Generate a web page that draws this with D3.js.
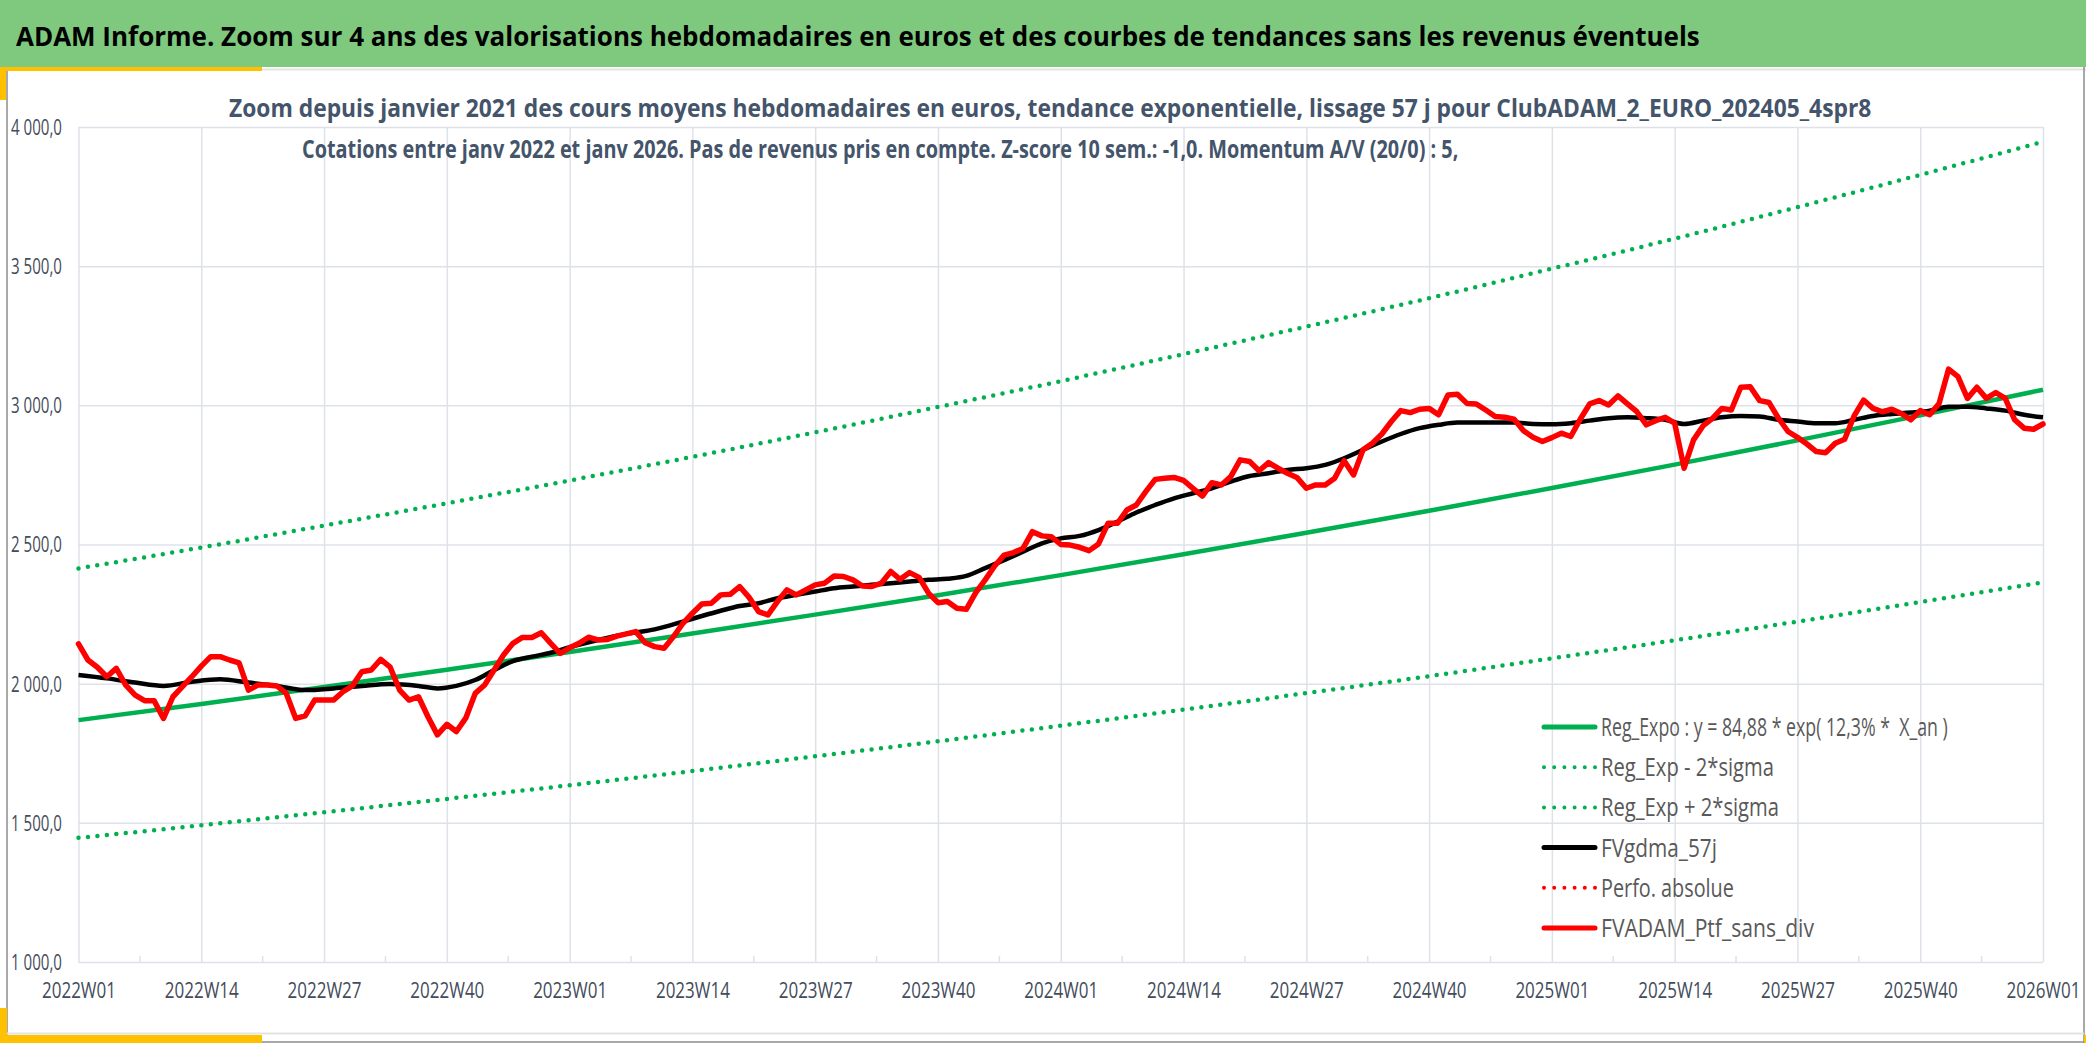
<!DOCTYPE html>
<html>
<head>
<meta charset="utf-8">
<script src="https://cdn.jsdelivr.net/npm/d3@7"></script>
<style>
  body { margin: 0; background: #fff; }
  svg { display: block; }
  text { font-family: "Open Sans", "Noto Sans", sans-serif; }
  .legend text { white-space: pre; }
</style>
</head>
<body>
<svg id="chart" width="2086" height="1043"></svg>
<script>
// ---- data ----
const years = [2022, 2023, 2024, 2025];
const weeks = [];
years.forEach(function (yr) {
  for (let w = 1; w <= 52; w++) weeks.push(yr + "W" + String(w).padStart(2, "0"));
});
weeks.push("2026W01");

const tickWeeks = ["2022W01", "2022W14", "2022W27", "2022W40",
                   "2023W01", "2023W14", "2023W27", "2023W40",
                   "2024W01", "2024W14", "2024W27", "2024W40",
                   "2025W01", "2025W14", "2025W27", "2025W40", "2026W01"];

const yTicks = [1000, 1500, 2000, 2500, 3000, 3500, 4000];

// trend curves, read at each labelled week
const regExpo  = [1869, 1927, 1988, 2050, 2114, 2180, 2248, 2318, 2390, 2465, 2542, 2621, 2703, 2787, 2874, 2964, 3056];
const regMinus = [1446, 1491, 1538, 1586, 1635, 1686, 1739, 1793, 1849, 1907, 1966, 2027, 2091, 2156, 2223, 2293, 2364];
const regPlus  = [2414, 2489, 2568, 2648, 2730, 2815, 2903, 2994, 3087, 3184, 3283, 3385, 3491, 3599, 3712, 3828, 3947];

// FVgdma_57j (smoothed), read every few weeks (index into weeks)
const smoothIdx = [0, 3, 6, 9, 12, 15, 18, 21, 24, 27, 30, 33, 36, 38, 40, 42, 44, 46, 48, 50,
  52, 55, 58, 61, 64, 66, 68, 70, 72, 74, 76, 78, 80, 82, 84, 86, 88, 90, 92, 94, 96, 98, 100, 102,
  104, 106, 108, 110, 112, 114, 116, 118, 120, 122, 124, 126, 128, 130, 132, 134, 136, 138, 140, 142,
  144, 146, 148, 150, 152, 154, 156, 158, 160, 162, 164, 166, 168, 170, 172, 174, 176, 178, 180, 182,
  184, 186, 188, 190, 192, 194, 196, 198, 200, 202, 204, 206, 208];
const smoothValues = [2031, 2019, 2004, 1992, 2007, 2016, 2004, 1992, 1977, 1983, 1992, 1999, 1992, 1983, 1992, 2013, 2049, 2081, 2097, 2111,
  2131, 2157, 2179, 2195, 2223, 2243, 2262, 2279, 2289, 2307, 2319, 2331, 2343, 2349, 2355, 2361, 2367, 2373, 2377, 2387, 2415, 2444, 2474, 2504,
  2522, 2531, 2552, 2582, 2615, 2642, 2666, 2684, 2702, 2726, 2746, 2756, 2768, 2774, 2786, 2810, 2840, 2870, 2897, 2918,
  2930, 2938, 2938, 2938, 2938, 2933, 2932, 2936, 2945, 2954, 2957, 2954, 2948, 2933, 2945, 2957, 2962, 2960, 2948, 2942,
  2936, 2936, 2948, 2962, 2969, 2974, 2981, 2995, 2995, 2989, 2981, 2966, 2957];

// FVADAM_Ptf_sans_div, one value per week
const portfolio = [
  2143, 2085, 2059, 2025, 2055, 1995, 1959, 1939, 1939, 1875, 1953, 1989, 2025,
  2063, 2097, 2097, 2085, 2075, 1977, 1995, 1995, 1992, 1965, 1875, 1884, 1941,
  1941, 1941, 1971, 1992, 2043, 2049, 2087, 2059, 1977, 1941, 1953, 1881, 1816,
  1854, 1828, 1876, 1965, 1995, 2049, 2103, 2145, 2166, 2166, 2183, 2145, 2109,
  2129, 2145, 2167, 2157, 2159, 2171, 2179, 2187, 2147, 2133, 2127, 2169, 2217,
  2253, 2286, 2289, 2319, 2321, 2349, 2310, 2259, 2247, 2295, 2337, 2319, 2337,
  2355, 2361, 2387, 2385, 2373, 2351, 2349, 2361, 2403, 2375, 2399, 2382, 2325,
  2291, 2295, 2271, 2267, 2327, 2373, 2423, 2462, 2471, 2486, 2546, 2531, 2528,
  2500, 2498, 2490, 2478, 2502, 2576, 2576, 2624, 2642, 2690, 2734, 2738, 2741,
  2730, 2702, 2674, 2722, 2714, 2744, 2804, 2798, 2765, 2794, 2774, 2756, 2741,
  2702, 2714, 2714, 2738, 2801, 2750, 2840, 2864, 2897, 2942, 2981, 2974, 2986,
  2989, 2966, 3037, 3040, 3007, 3005, 2983, 2960, 2957, 2950, 2909, 2885, 2870,
  2884, 2900, 2888, 2950, 3005, 3017, 3001, 3034, 3005, 2977, 2930, 2945, 2957,
  2936, 2774, 2876, 2926, 2953, 2989, 2983, 3065, 3067, 3017, 3010, 2953, 2906,
  2885, 2861, 2834, 2830, 2864, 2878, 2962, 3019, 2989, 2977, 2986, 2971, 2948,
  2981, 2966, 3007, 3130, 3103, 3025, 3065, 3025, 3046, 3025, 2948, 2918, 2914,
  2933];

const legendItems = [
  { label: "Reg_Expo : y = 84,88 * exp( 12,3% *  X_an )", color: "#00B050", dotted: false, len: 347 },
  { label: "Reg_Exp - 2*sigma", color: "#00B050", dotted: true, len: 173 },
  { label: "Reg_Exp + 2*sigma", color: "#00B050", dotted: true, len: 178 },
  { label: "FVgdma_57j", color: "#000000", dotted: false, len: 116 },
  { label: "Perfo. absolue", color: "#FF0000", dotted: true, len: 133 },
  { label: "FVADAM_Ptf_sans_div", color: "#FF0000", dotted: false, len: 213 }
];

const titleText = "ADAM Informe. Zoom sur 4 ans des valorisations hebdomadaires en euros et des courbes de tendances sans les revenus éventuels";
const subTitle1 = "Zoom depuis janvier 2021 des cours moyens hebdomadaires en euros, tendance exponentielle, lissage 57 j pour ClubADAM_2_EURO_202405_4spr8";
const subTitle2 = "Cotations entre janv 2022 et janv 2026. Pas de revenus pris en compte. Z-score 10 sem.: -1,0. Momentum A/V (20/0) : 5,";

// squeeze a text horizontally so it spans `width` px (the source font is narrow)
function fitWidth(sel, width) {
  sel.each(function () {
    const node = this;
    const w = typeof width === "function" ? width(d3.select(node).datum()) : width;
    const natural = node.getComputedTextLength();
    const x0 = +node.getAttribute("x") || 0;
    node.setAttribute("x", 0);
    const prev = node.getAttribute("transform") || "";
    node.setAttribute("transform", prev + " translate(" + x0 + ",0) scale(" + (w / natural) + ",1)");
  });
}

// ---- layout ----
const plot = { left: 78.5, right: 2043, top: 127, bottom: 962 };
const svg = d3.select("#chart");

// frame
svg.append("rect").attr("x", 0).attr("y", 0).attr("width", 2086).attr("height", 67).attr("fill", "#7EC97E");
svg.append("line").attr("x1", 0).attr("x2", 2086).attr("y1", 69.5).attr("y2", 69.5).attr("stroke", "#E3E3E3").attr("stroke-width", 2);
svg.append("line").attr("x1", 7).attr("x2", 7).attr("y1", 67).attr("y2", 1043).attr("stroke", "#8C8C8C").attr("stroke-width", 1.5);
svg.append("line").attr("x1", 2084).attr("x2", 2084).attr("y1", 67).attr("y2", 1043).attr("stroke", "#8C8C8C").attr("stroke-width", 1.5);
svg.append("line").attr("x1", 7).attr("x2", 2084).attr("y1", 1033.5).attr("y2", 1033.5).attr("stroke", "#E3E3E3").attr("stroke-width", 2);
svg.append("line").attr("x1", 0).attr("x2", 2086).attr("y1", 1042).attr("y2", 1042).attr("stroke", "#8C8C8C").attr("stroke-width", 1.5);
[[0, 67, 262, 4], [0, 67, 6, 33], [0, 1008, 7, 35], [0, 1035, 262, 8], [2084, 1035, 2, 8]].forEach(function (r) {
  svg.append("rect").attr("x", r[0]).attr("y", r[1]).attr("width", r[2]).attr("height", r[3]).attr("fill", "#FFC000");
});

// titles
svg.append("text").attr("x", 16).attr("y", 46).attr("font-size", 27).attr("font-weight", "bold")
  .attr("fill", "#000").text(titleText).call(fitWidth, 1684);
svg.append("text").attr("x", 229).attr("y", 117).attr("font-size", 25).attr("font-weight", "bold")
  .attr("fill", "#44546A").text(subTitle1).call(fitWidth, 1643);

// ---- scales ----
const x = d3.scalePoint().domain(weeks).range([plot.left, plot.right]);
const y = d3.scaleLinear().domain([1000, 4000]).range([plot.bottom, plot.top]);
const fr = d3.formatLocale({ decimal: ",", thousands: " ", grouping: [3], currency: ["", " €"] });
const fmt = fr.format(",.1f");

// gridlines
const gridColor = "#DEE2E8";
svg.append("g").attr("transform", "translate(0," + plot.bottom + ")")
  .call(d3.axisBottom(x).tickValues(tickWeeks).tickSize(-(plot.bottom - plot.top)).tickFormat(""))
  .call(g => g.select(".domain").remove())
  .call(g => g.selectAll(".tick line").attr("stroke", gridColor).attr("stroke-width", 1.5));
svg.append("g").attr("transform", "translate(" + plot.left + ",0)")
  .call(d3.axisLeft(y).tickValues(yTicks).tickSize(-(plot.right - plot.left)).tickFormat(""))
  .call(g => g.select(".domain").remove())
  .call(g => g.selectAll(".tick line").attr("stroke", gridColor).attr("stroke-width", 1.5));

// minor ticks halfway between labelled weeks
const minorX = tickWeeks.slice(1).map((w, i) => (x(w) + x(tickWeeks[i])) / 2);
svg.append("g").selectAll("line").data(minorX).enter().append("line")
  .attr("x1", d => d).attr("x2", d => d).attr("y1", plot.bottom).attr("y2", plot.bottom - 6)
  .attr("stroke", gridColor).attr("stroke-width", 1.5);

// axis labels
const axisText = "#434C5B";
svg.append("g").attr("transform", "translate(0," + plot.bottom + ")")
  .call(d3.axisBottom(x).tickValues(tickWeeks).tickSize(0).tickPadding(0))
  .call(g => g.select(".domain").remove())
  .call(g => g.selectAll(".tick text").attr("y", 36).attr("dy", 0).attr("font-size", 21)
    .attr("font-family", "'Open Sans', sans-serif").attr("fill", axisText)
    .call(fitWidth, 74));
svg.append("g").attr("transform", "translate(62,0)")
  .call(d3.axisLeft(y).tickValues(yTicks).tickSize(0).tickPadding(0).tickFormat(fmt))
  .call(g => g.select(".domain").remove())
  .call(g => g.selectAll(".tick text").attr("font-size", 21).attr("dy", "0.35em")
    .attr("font-family", "'Open Sans', sans-serif").attr("fill", axisText)
    .call(fitWidth, 51));

// second subtitle line sits over the plot area
svg.append("text").attr("x", 302).attr("y", 158).attr("font-size", 25).attr("font-weight", "bold")
  .attr("fill", "#44546A").text(subTitle2).call(fitWidth, 1157);

// ---- series ----
const trendLine = d3.line().x((d, i) => x(tickWeeks[i])).y(d => y(d)).curve(d3.curveMonotoneX);

svg.append("path").datum(regExpo).attr("d", trendLine)
  .attr("fill", "none").attr("stroke", "#00B050").attr("stroke-width", 4.5).attr("stroke-linejoin", "round");
[regMinus, regPlus].forEach(function (s) {
  svg.append("path").datum(s).attr("d", trendLine)
    .attr("fill", "none").attr("stroke", "#00B050").attr("stroke-width", 4.5)
    .attr("stroke-linecap", "round").attr("stroke-dasharray", "0 9.5");
});

const smoothLine = d3.line().x((d, i) => x(weeks[smoothIdx[i]])).y(d => y(d)).curve(d3.curveMonotoneX);
svg.append("path").datum(smoothValues).attr("d", smoothLine)
  .attr("fill", "none").attr("stroke", "#000").attr("stroke-width", 4.5).attr("stroke-linejoin", "round");

const weekLine = d3.line().x((d, i) => x(weeks[i])).y(d => y(d));
svg.append("path").datum(portfolio).attr("d", weekLine)
  .attr("fill", "none").attr("stroke", "#FF0000").attr("stroke-width", 5.5)
  .attr("stroke-linejoin", "round").attr("stroke-linecap", "round");

// ---- legend ----
const legend = svg.append("g").attr("class", "legend").attr("transform", "translate(1544,727)");
const rows = legend.selectAll("g").data(legendItems).enter().append("g")
  .attr("transform", (d, i) => "translate(0," + (i * 40.2) + ")");
rows.append("line").attr("x1", 0).attr("x2", 51).attr("y1", 0).attr("y2", 0)
  .attr("stroke", d => d.color)
  .attr("stroke-width", d => d.dotted ? 4 : 5)
  .attr("stroke-linecap", "round")
  .attr("stroke-dasharray", d => d.dotted ? "0 10.2" : null);
rows.append("text").attr("x", 57).attr("y", 0).attr("dy", "0.36em").attr("font-size", 25)
  .attr("fill", "#595959").text(d => d.label)
  .call(fitWidth, d => d.len);
</script>
</body>
</html>
